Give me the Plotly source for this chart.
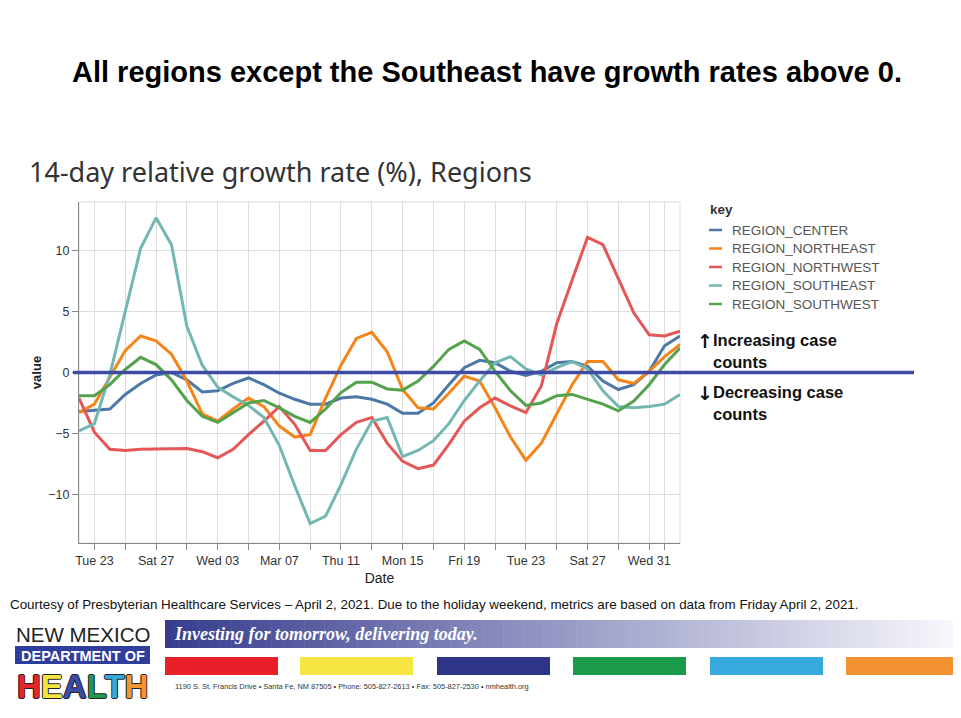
import plotly.graph_objects as go
import pandas as pd

# ---------------- data ----------------
dates = pd.date_range("2021-02-22", "2021-04-02", freq="D")

region_center = [-3.2, -3.1, -3.0, -1.8, -0.9, -0.2, 0.0, -0.6, -1.6, -1.5,
                 -0.9, -0.45, -1.0, -1.7, -2.2, -2.6, -2.6, -2.1, -2.0, -2.2,
                 -2.6, -3.35, -3.35, -2.5, -1.0, 0.4, 1.0, 0.8, 0.1, -0.25,
                 0.1, 0.8, 0.9, 0.5, -0.7, -1.4, -1.0, 0.1, 2.2, 3.0]
region_northeast = [-3.3, -2.6, -0.4, 1.8, 3.0, 2.6, 1.5, -0.7, -3.4, -4.0,
                    -3.0, -2.1, -2.8, -4.4, -5.3, -5.1, -2.1, 0.6, 2.8, 3.3,
                    1.7, -1.4, -2.9, -3.0, -1.7, -0.3, -0.7, -2.9, -5.3, -7.2,
                    -5.8, -3.4, -1.0, 0.9, 0.9, -0.6, -0.9, 0.1, 1.3, 2.3]
region_northwest = [-2.1, -4.9, -6.3, -6.4, -6.3, -6.3, -6.3, -6.25, -6.5, -7.0,
                    -6.3, -5.1, -4.0, -2.8, -4.25, -6.4, -6.4, -5.1, -4.1, -3.7,
                    -5.8, -7.3, -7.9, -7.6, -5.9, -4.0, -2.9, -2.1, -2.75, -3.3,
                    -1.1, 4.0, 7.6, 11.1, 10.5, 7.7, 4.9, 3.1, 3.0, 3.4]
region_southeast = [-4.8, -4.2, -0.2, 5.0, 10.2, 12.7, 10.5, 3.8, 0.6, -1.2,
                    -2.0, -2.7, -3.7, -6.0, -9.3, -12.4, -11.8, -9.2, -6.3, -4.0,
                    -3.7, -6.9, -6.4, -5.6, -4.2, -2.3, -0.7, 0.8, 1.3, 0.3,
                    -0.2, 0.4, 0.9, 0.3, -1.5, -2.8, -2.9, -2.8, -2.6, -1.8]
region_southwest = [-1.9, -1.9, -1.0, 0.25, 1.25, 0.65, -0.6, -2.3, -3.6, -4.1,
                    -3.3, -2.5, -2.3, -2.9, -3.6, -4.1, -3.0, -1.65, -0.8, -0.8,
                    -1.35, -1.45, -0.7, 0.5, 1.9, 2.6, 1.9, 0.1, -1.5, -2.7,
                    -2.5, -1.9, -1.8, -2.2, -2.6, -3.15, -2.35, -1.0, 0.65, 2.0]

series_names = ["REGION_CENTER", "REGION_NORTHEAST", "REGION_NORTHWEST",
                "REGION_SOUTHEAST", "REGION_SOUTHWEST"]
series_values = [region_center, region_northeast, region_northwest,
                 region_southeast, region_southwest]
series_colors = ["#4C78A8", "#F58518", "#E45756", "#72B7B2", "#54A24B"]

tick_dates = ["2021-02-23", "2021-02-25", "2021-02-27", "2021-03-01", "2021-03-03",
              "2021-03-05", "2021-03-07", "2021-03-09", "2021-03-11", "2021-03-13",
              "2021-03-15", "2021-03-17", "2021-03-19", "2021-03-21", "2021-03-23",
              "2021-03-25", "2021-03-27", "2021-03-29", "2021-03-31", "2021-04-01"]
tick_labels = ["Tue 23", "", "Sat 27", "", "Wed 03", "", "Mar 07", "", "Thu 11", "",
               "Mon 15", "", "Fri 19", "", "Tue 23", "", "Sat 27", "", "Wed 31", ""]
y_ticks = [-10, -5, 0, 5, 10]

slide_title = "All regions except the Southeast have growth rates above 0."
chart_title = "14-day relative growth rate (%), Regions"
footer_text = ("Courtesy of Presbyterian Healthcare Services \u2013 April 2, 2021. Due to the holiday "
               "weekend, metrics are based on data from Friday April 2, 2021.")
address_text = ("1190 S. St. Francis Drive \u2022 Santa Fe, NM 87505 \u2022 Phone: 505-827-2613 "
                "\u2022 Fax: 505-827-2530 \u2022 nmhealth.org")

# ---------------- geometry helpers (screen pixel -> paper) ----------------
OFF = 8                      # page body margin
W, H = 961 - OFF, 718 - OFF
L, R, T, B = 79, 680, 202, 543   # plot area in screen pixels


def px(x):
    return (x - L) / (R - L)


def py(y):
    return (B - y) / (B - T)


fig = go.Figure()
for name, vals, col in zip(series_names, series_values, series_colors):
    fig.add_trace(go.Scatter(x=dates, y=vals, mode="lines", name=name,
                             line=dict(color=col, width=3), showlegend=False))

shapes = []
annotations = []


def note(text, x, y, font, xanchor="left"):
    annotations.append(dict(text=text, x=px(x), y=py(y), xref="paper", yref="paper",
                            xanchor=xanchor, yanchor="middle", showarrow=False, font=font))


# plot frame (light top/right border)
shapes.append(dict(type="rect", xref="paper", yref="paper", x0=0, x1=1, y0=0, y1=1,
                   line=dict(color="#dddddd", width=1), layer="below"))

# zero reference line extending beyond plot
shapes.append(dict(type="line", xref="paper", yref="y", x0=px(73), x1=px(914), y0=0, y1=0,
                   line=dict(color="#3F4BA3", width=3.5), layer="above"))

# legend (manual)
note("<b>key</b>", 708, 209, dict(family="Liberation Sans, Arial", size=13.5, color="#333"))
for i, (name, col) in enumerate(zip(series_names, series_colors)):
    yy = 230 + 18.5 * i
    shapes.append(dict(type="line", xref="paper", yref="paper", x0=px(709), x1=px(722),
                       y0=py(yy), y1=py(yy), line=dict(color=col, width=2.5)))
    note(name, 730, yy, dict(family="Liberation Sans, Arial", size=13.5, color="#555"))

# increasing / decreasing notes
note_font = dict(family="Liberation Sans, Arial", size=16.5, color="#111", weight="bold")
arrow_font = dict(family="DejaVu Sans, Liberation Sans", size=19, color="#111", weight="bold")
note("\u2191", 695, 341, arrow_font)
note("\u2193", 695, 393, arrow_font)
for txt, xx, yy in [("Increasing case", 711, 340), ("counts", 711, 362),
                    ("Decreasing case", 711, 392), ("counts", 711, 414)]:
    note(txt, xx, yy, note_font)

# titles
note(slide_title, 487, 72, dict(family="Liberation Sans, Arial", size=29, color="#000", weight="bold"),
     xanchor="center")
note(chart_title, 27, 171, dict(family="Noto Sans, Open Sans", size=27, color="#333"))

# footer text
note(footer_text, 8, 604, dict(family="Liberation Sans, Arial", size=13.4, color="#111"))

# banner gradient
n_strips = 120
x_start, x_end = 165, 961
c0 = (55, 60, 142)
c1 = (248, 248, 252)
for k in range(n_strips):
    t = k / (n_strips - 1)
    col = "rgb(%d,%d,%d)" % tuple(round(a + (b - a) * t) for a, b in zip(c0, c1))
    xa = x_start + (x_end - x_start) * k / n_strips
    xb = x_start + (x_end - x_start) * (k + 1) / n_strips + 0.5
    shapes.append(dict(type="rect", xref="paper", yref="paper", x0=px(xa), x1=px(xb),
                       y0=py(648), y1=py(620), fillcolor=col, line=dict(width=0)))
note("<b><i>Investing for tomorrow, delivering today.</i></b>", 172, 634,
     dict(family="Liberation Serif, DejaVu Serif", size=18, color="white"))

# colour bars
bar_colors = ["#E8202A", "#F7E642", "#2E3586", "#1A9A4B", "#36A9DD", "#F39231"]
bar_x = [(165, 278), (300, 413), (437, 550), (573, 686), (710, 823), (846, 961)]
for col, (xa, xb) in zip(bar_colors, bar_x):
    shapes.append(dict(type="rect", xref="paper", yref="paper", x0=px(xa), x1=px(xb),
                       y0=py(675), y1=py(657), fillcolor=col, line=dict(width=0)))
note(address_text, 173, 686, dict(family="Liberation Sans, Arial", size=7.4, color="#333"))

# NM DOH logo
note("NEW MEXICO", 82.5, 634, dict(family="Liberation Sans, Arial", size=20.5, color="#222"),
     xanchor="center")
shapes.append(dict(type="rect", xref="paper", yref="paper", x0=px(15), x1=px(150),
                   y0=py(664), y1=py(646), fillcolor="#2F3D9C", line=dict(width=0)))
note("<b>DEPARTMENT OF</b>", 82.5, 655.5,
     dict(family="Liberation Sans, Arial", size=14.5, color="white"), xanchor="center")
health_letters = ["H", "E", "A", "L", "T", "H"]
health_colors = ["#E4262C", "#F5E543", "#3B4BA8", "#1E9A4C", "#37A8DC", "#F39431"]
health_text = "".join("<span style='color:%s'>%s</span>" % (c, ch)
                      for ch, c in zip(health_letters, health_colors))
note("<b>" + health_text + "</b>", 82.5, 686,
     dict(family="Liberation Sans, Arial", size=33, color="#222",
          shadow="-1px 0 #222, 1px 0 #222, 0 -1px #222, 0 1px #222"), xanchor="center")

# slide right border
shapes.append(dict(type="line", xref="paper", yref="paper", x0=px(958.5), x1=px(958.5),
                   y0=py(0), y1=py(612), line=dict(color="#cccccc", width=1)))

fig.update_layout(
    width=W, height=H, autosize=False,
    margin=dict(l=L - OFF, r=W - (R - OFF), t=T - OFF, b=H - (B - OFF), pad=0),
    paper_bgcolor="white", plot_bgcolor="white",
    shapes=shapes, annotations=annotations,
    showlegend=False,
    xaxis=dict(range=[dates[0], dates[-1]], tickmode="array", tickvals=tick_dates, ticktext=tick_labels,
               showgrid=True, gridcolor="#dddddd", gridwidth=1, zeroline=False,
               showline=True, linecolor="#888888", linewidth=1,
               ticks="outside", ticklen=6, tickcolor="#888888",
               tickfont=dict(family="Liberation Sans, Arial", size=12.5, color="#333"),
               title=dict(text="Date", standoff=6,
                          font=dict(family="Liberation Sans, Arial", size=14, color="#222"))),
    yaxis=dict(range=[-14, 14], tickmode="array", tickvals=y_ticks,
               showgrid=True, gridcolor="#dddddd", gridwidth=1, zeroline=False,
               showline=True, linecolor="#888888", linewidth=1,
               ticks="outside", ticklen=6, tickcolor="#888888",
               tickfont=dict(family="Liberation Sans, Arial", size=12.5, color="#333"),
               title=dict(text="<b>value</b>", standoff=3,
                          font=dict(family="Liberation Sans, Arial", size=13, color="#222"))),
)

fig.write_html("out.html")
